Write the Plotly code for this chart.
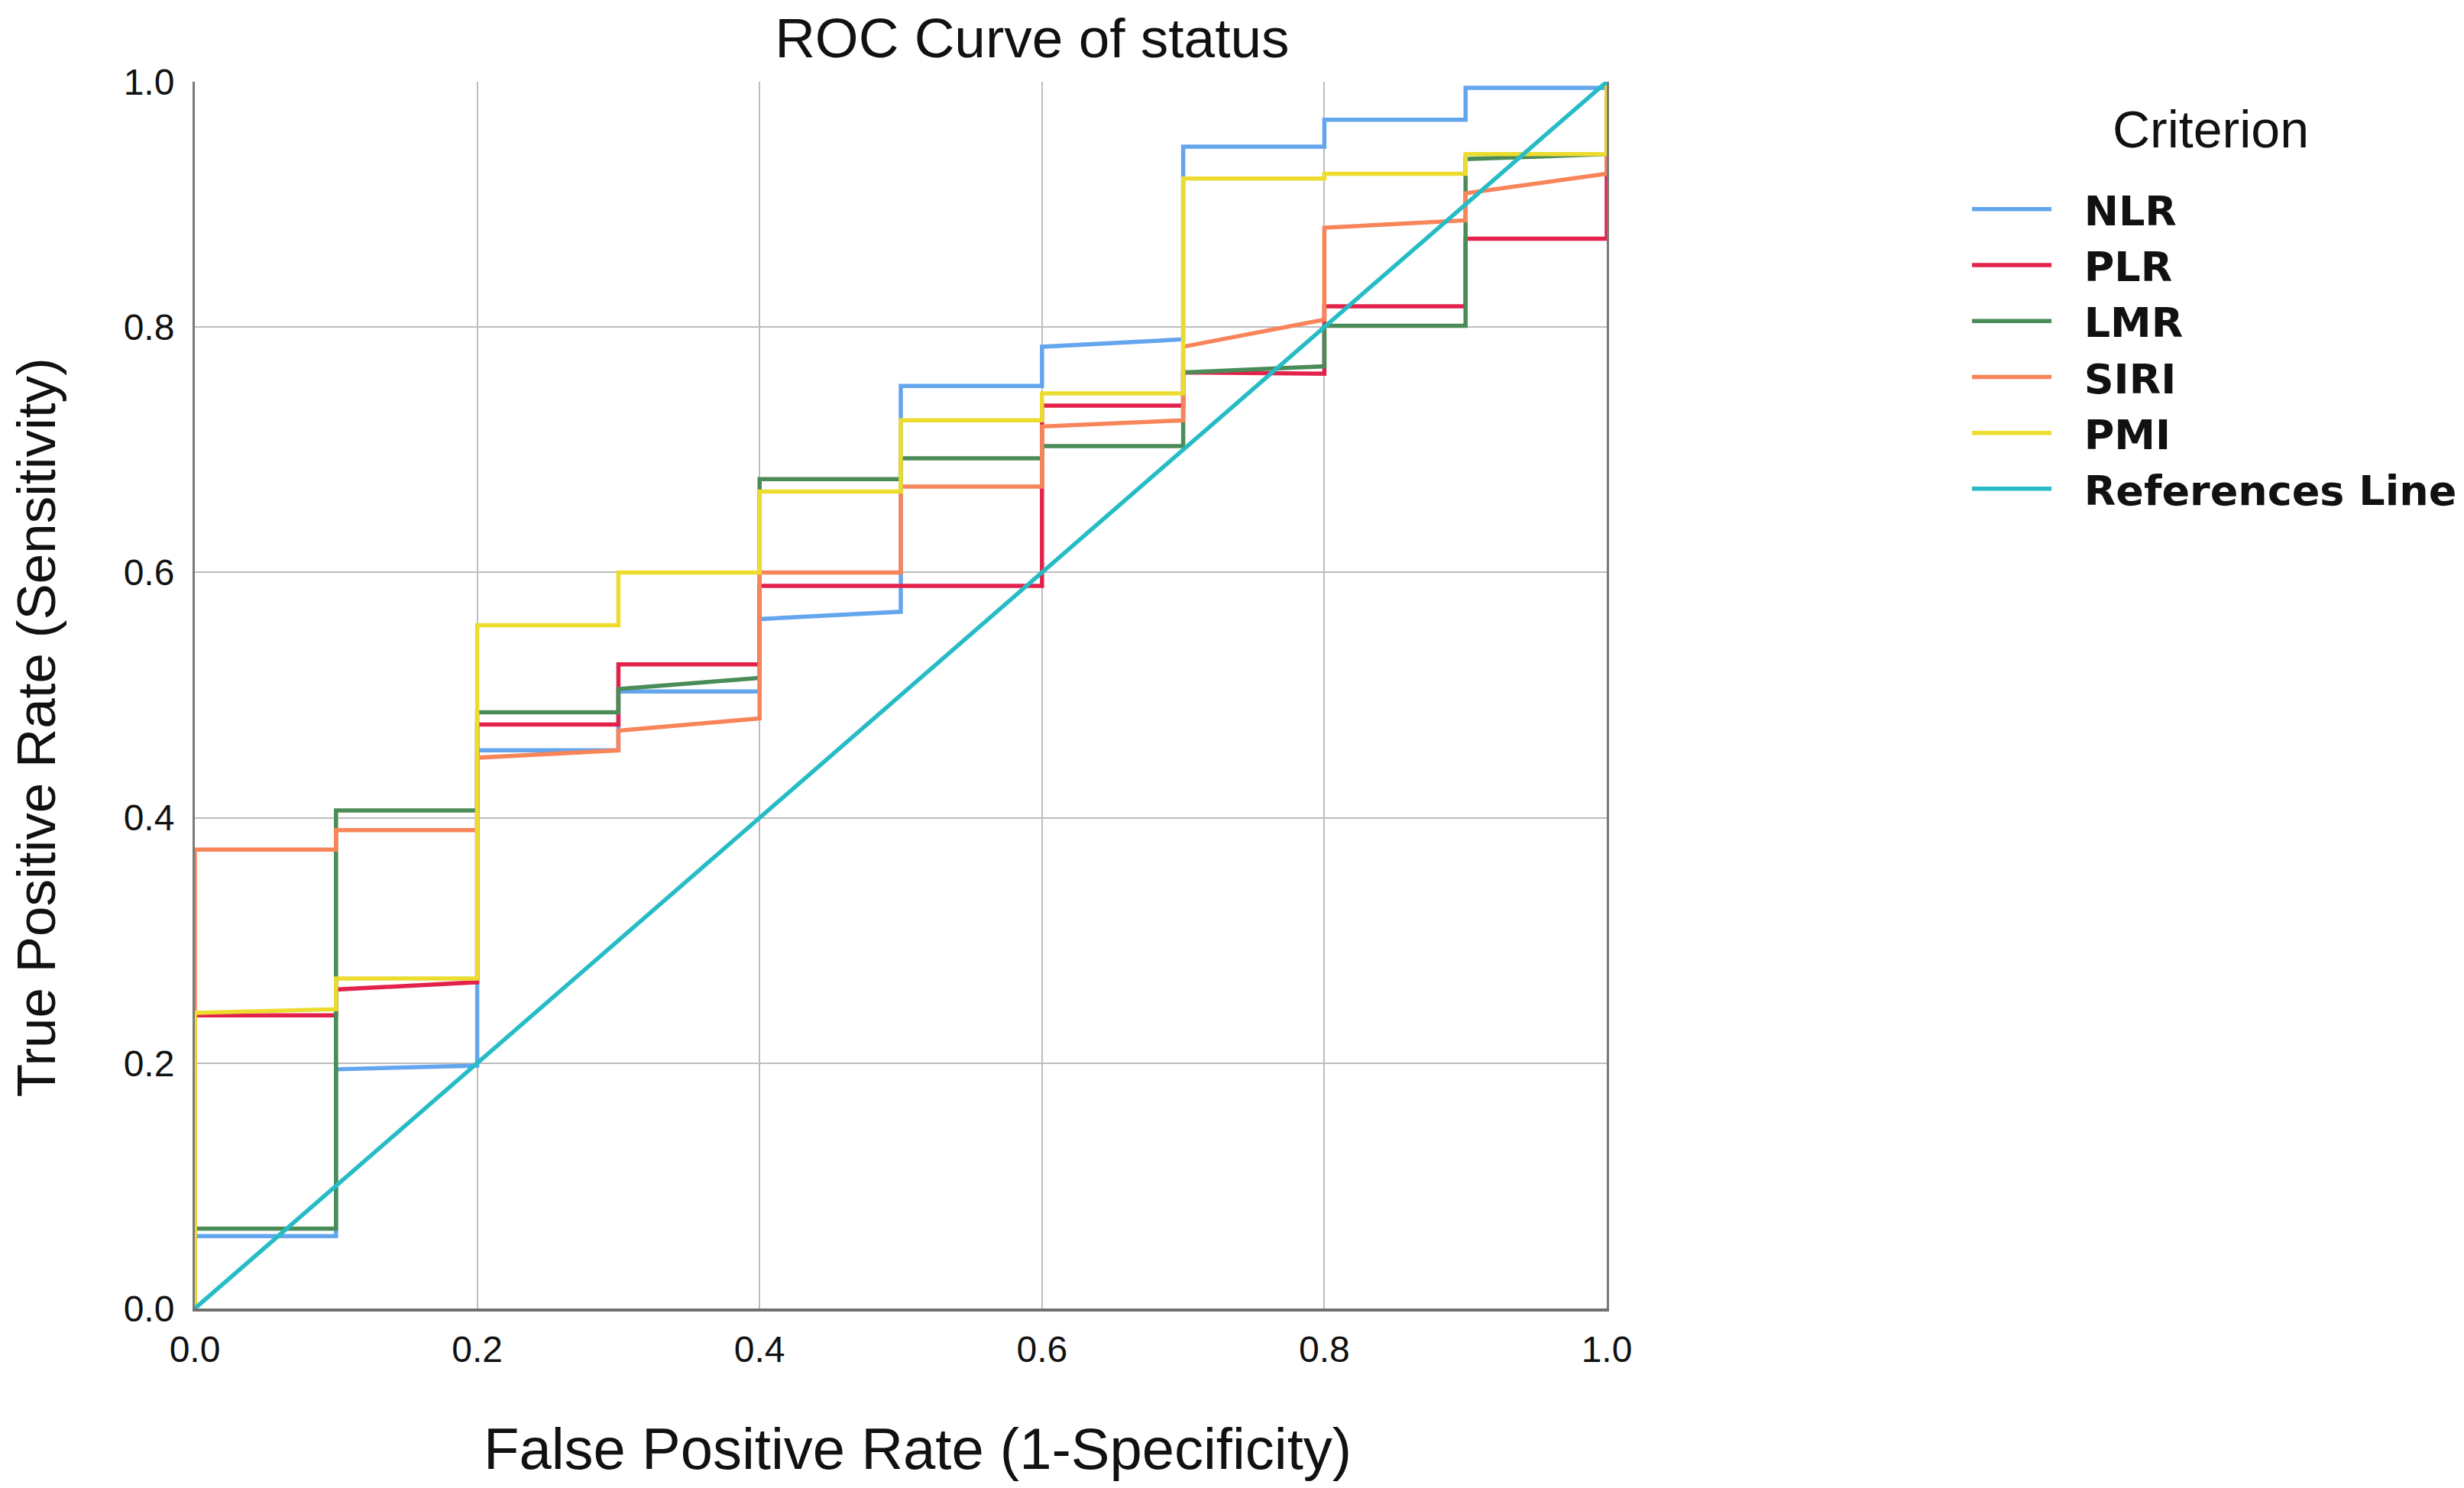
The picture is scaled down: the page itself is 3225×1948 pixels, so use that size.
import plotly.graph_objects as go

# ROC points (FPR, TPR)
nlr_fpr = [0, 0, 0.1, 0.1, 0.2, 0.2, 0.3, 0.3, 0.4, 0.4, 0.5, 0.5, 0.6, 0.6, 0.7, 0.7, 0.8, 0.8, 0.9, 0.9, 1.0, 1.0]
nlr_tpr = [0, 0.059, 0.059, 0.195, 0.198, 0.455, 0.455, 0.503, 0.503, 0.562, 0.568, 0.752, 0.752, 0.784, 0.790, 0.947, 0.947, 0.969, 0.969, 0.995, 0.995, 1.0]

plr_fpr = [0, 0, 0.1, 0.1, 0.2, 0.2, 0.3, 0.3, 0.4, 0.4, 0.6, 0.6, 0.7, 0.7, 0.8, 0.8, 0.9, 0.9, 1.0, 1.0]
plr_tpr = [0, 0.239, 0.239, 0.260, 0.266, 0.476, 0.476, 0.525, 0.525, 0.589, 0.589, 0.736, 0.736, 0.763, 0.762, 0.817, 0.817, 0.872, 0.872, 1.0]

lmr_fpr = [0, 0, 0.1, 0.1, 0.2, 0.2, 0.3, 0.3, 0.4, 0.4, 0.5, 0.5, 0.6, 0.6, 0.7, 0.7, 0.8, 0.8, 0.9, 0.9, 1.0, 1.0]
lmr_tpr = [0, 0.065, 0.065, 0.406, 0.406, 0.486, 0.486, 0.505, 0.514, 0.676, 0.676, 0.693, 0.693, 0.703, 0.703, 0.763, 0.768, 0.801, 0.801, 0.937, 0.941, 1.0]

siri_fpr = [0, 0, 0.1, 0.1, 0.2, 0.2, 0.3, 0.3, 0.4, 0.4, 0.5, 0.5, 0.6, 0.6, 0.7, 0.7, 0.8, 0.8, 0.9, 0.9, 1.0, 1.0]
siri_tpr = [0, 0.374, 0.374, 0.390, 0.390, 0.449, 0.455, 0.471, 0.481, 0.600, 0.600, 0.670, 0.670, 0.719, 0.724, 0.784, 0.806, 0.881, 0.887, 0.909, 0.925, 1.0]

pmi_fpr = [0, 0, 0.1, 0.1, 0.2, 0.2, 0.3, 0.3, 0.4, 0.4, 0.5, 0.5, 0.6, 0.6, 0.7, 0.7, 0.8, 0.8, 0.9, 0.9, 1.0, 1.0]
pmi_tpr = [0, 0.241, 0.244, 0.269, 0.269, 0.557, 0.557, 0.600, 0.600, 0.666, 0.666, 0.724, 0.724, 0.746, 0.746, 0.921, 0.921, 0.925, 0.925, 0.941, 0.941, 1.0]

ref_fpr = [0, 1]
ref_tpr = [0, 1]

tick_vals = [0, 0.2, 0.4, 0.6, 0.8, 1.0]
tick_text = ["0.0", "0.2", "0.4", "0.6", "0.8", "1.0"]

curves = [
    ("NLR", nlr_fpr, nlr_tpr, "#64a6ee"),
    ("PLR", plr_fpr, plr_tpr, "#e3224c"),
    ("LMR", lmr_fpr, lmr_tpr, "#4a8c57"),
    ("SIRI", siri_fpr, siri_tpr, "#f8845a"),
    ("PMI", pmi_fpr, pmi_tpr, "#ecdc30"),
    ("References Line", ref_fpr, ref_tpr, "#26bcc6"),
]

fig = go.Figure()
for name, xs, ys, col in curves:
    # nbsp padding keeps the gap between legend line and label like the original
    fig.add_trace(go.Scatter(x=xs, y=ys, mode="lines", name="\u00a0\u00a0" + name,
                             line=dict(color=col, width=5.5)))

fig.update_layout(
    width=3225, height=1948,
    margin=dict(l=247, r=1127, t=99, b=243),
    paper_bgcolor="white", plot_bgcolor="white",
    font=dict(family="Liberation Sans, Arial", color="#111111"),
    title=dict(text="ROC Curve of status", x=0.4164, xanchor="center",
               y=0.992, yanchor="top", font=dict(size=73)),
    legend=dict(
        font=dict(family="DejaVu Sans", size=54, weight="bold", color="#111111"),
        x=1.256, xanchor="left", y=0.922, yanchor="top",
        itemwidth=104, bgcolor="rgba(0,0,0,0)",
    ),
    showlegend=True,
    annotations=[
        # legend heading
        dict(text="Criterion", xref="paper", yref="paper",
             x=(2890 - 247) / 1851, y=1 - (161 - 99) / 1606,
             xanchor="center", yanchor="middle", showarrow=False,
             font=dict(size=68, color="#111111")),
        # axis titles placed as in the original
        dict(text="False Positive Rate (1-Specificity)", xref="paper", yref="paper",
             x=(1195 - 247) / 1851, y=-(1888 - 1705) / 1606,
             xanchor="center", yanchor="middle", showarrow=False,
             font=dict(size=76, color="#111111")),
        dict(text="True Positive Rate (Sensitivity)", xref="paper", yref="paper",
             x=(39 - 247) / 1851, y=1 - (944 - 99) / 1606, textangle=-90,
             xanchor="center", yanchor="middle", showarrow=False,
             font=dict(size=71, color="#111111")),
    ],
)

fig.update_xaxes(
    range=[0, 1], tickvals=tick_vals, ticktext=tick_text,
    showgrid=True, gridcolor="#bdbdbd", gridwidth=2,
    showline=True, linecolor="#707070", linewidth=4,
    zeroline=False, ticks="", tickfont=dict(size=48), ticklabelstandoff=8,
)
fig.update_yaxes(
    range=[0, 1], tickvals=tick_vals, ticktext=tick_text,
    showgrid=True, gridcolor="#bdbdbd", gridwidth=2,
    showline=True, linecolor="#7a7a7a", linewidth=3, mirror=True,
    zeroline=False, ticks="", tickfont=dict(size=48), ticklabelstandoff=14,
)

fig.write_html("out.html")
